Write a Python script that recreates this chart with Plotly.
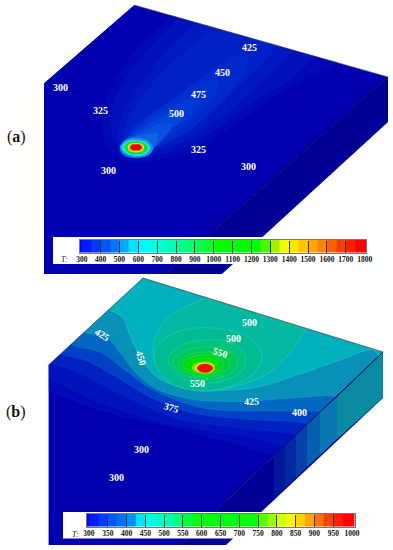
import plotly.graph_objects as go

SERIF = "Liberation Serif"
# ---------- panel (a) outlines (picture units) ----------
A_TOP = [(134,5),(388,77),(165,274),(44,274),(44,83)]
A_SIDE = [(388,77),(388,122),(222,274),(165,274)]
A_MASK = [(0,0),(393,0),(393,78),(388,77),(134,5),(44,83),(0,83)]
# ---------- panel (a) temperature contours, outer to inner ----------
A_C1 = [(172,8),(167,19),(140,45),(115,80),(102,115),(104,140),(118,157),(135,162),(160,160),(195,150),(235,125),(270,100),(305,80),(337,63),(345,56)]
A_C2 = [(184,8),(177,18),(150,47),(125,80),(111,112),(112,135),(122,150),(135,157),(160,155),(190,145),(225,123),(260,98),(290,80),(315,57),(322,50)]
A_C3 = [(204,14),(197,23),(170,47),(140,85),(122,115),(118,135),(125,148),(137,153),(160,150),(190,138),(220,118),(250,93),(275,70),(293,50),(300,42)]
A_C4 = [(220,18),(213,29),(190,47),(160,75),(135,107),(124,132),(128,145),(138,150),(160,146),(188,130),(215,108),(240,85),(265,60),(277,46),(284,38)]
A_C5 = [(247,57),(230,58),(205,75),(175,97),(145,118),(127,135),(128,146),(140,150),(160,146),(190,130),(222,102),(242,76),(248,62),(247,57)]
A_C6 = [(218,81),(200,82),(175,98),(150,115),(130,133),(130,145),(140,149),(160,143),(185,126),(208,105),(218,90),(218,81)]
A_C7 = [(198,100),(185,100),(165,110),(145,122),(131,136),(132,145),(140,148),(158,141),(178,125),(194,110),(198,100)]
A_C8 = [(184,114),(170,114),(155,120),(140,130),(125,141),(126,151),(142,153),(156,144),(172,128),(183,120),(184,114)]
A_C9 = [(172,124),(160,124),(147,130),(132,137),(122,146),(125,155),(142,157),(156,146),(168,133),(172,124)]
A_C10 = [(158,133),(148,134),(132,137),(120,146),(123,155),(137,158),(150,154),(155,146),(158,138),(158,133)]
A_C11 = [(137,138),(125,140),(120,147),(124,154),(136,157.5),(148,155.5),(153,148),(149,141),(137,138)]
A_C12 = [(136,140),(126,141.5),(121.5,147.5),(126,153.5),(136,156),(146,154),(150.5,148),(146,142),(136,140)]
A_C13 = [(136,141.2),(128,142.5),(124,147.5),(128,152.5),(136,154.3),(144,153),(148,148),(144,143),(136,141.2)]
A_C14 = [(136,143),(130,143.8),(128,147.5),(130,151),(136,152.2),(142,151),(144,147.5),(142,144),(136,143)]
A_C15 = [(136,143.8),(131,144.6),(129,147.5),(131,150.4),(136,151.2),(141,150.4),(143,147.5),(141,144.6),(136,143.8)]
A_C16 = [(136,144.5),(132,145),(130.5,147.5),(132,149.7),(136,150.3),(140,149.7),(141.5,147.5),(140,145),(136,144.5)]
A_FILLS = ["#0008b4","#0010ba","#0018c0","#0020c6","#0028ca","#0030d0","#0038d6","#0444dc",
           "#0850e0","#0c64e4","#1890e8","#20e0d8","#10e040","#f0f020","#ff8000","#d80000"]
# ---------- panel (a) labels ----------
A_LABELS = ["300","325","425","450","475","500","325","300","300"]
A_LABEL_X = [60,100,249,222,198.5,176,198,108,248]
A_LABEL_Y = [87.5,110,47,72.5,94,113,149.5,170.5,166]

# ---------- panel (b) outlines ----------
B_TOP = [(143,278),(383,352),(180,545),(48.5,545),(48.5,365)]
B_SIDE = [(383,352),(383,398),(226,545),(180,545)]
B_MASK = [(0,0),(393,0),(393,398),(383,398),(383,352),(143,278),(48.5,365),(48.5,546),(0,546)]
B_STRIP_1 = [(337,397),(383,352),(383,398),(337,439)]
B_STRIP_2 = [(320,412),(337,397),(337,439),(320,455)]
B_STRIP_3 = [(307,424),(320,412),(320,455),(307,467)]
B_STRIP_4 = [(296,435),(307,424),(307,467),(296,478)]
B_STRIP_5 = [(285,445),(296,435),(296,478),(285,488)]
B_STRIP_6 = [(274,456),(285,445),(285,488),(274,499)]
B_STRIP_FILLS = ["#0a8aa0","#0876b0","#055eae","#0340a8","#0028a0","#001898"]
# ---------- panel (b) open contours ----------
B_CLOSE = [(395,345),(395,320),(300,300),(143,276),(40,350)]
B_C1 = [(40,387),(48,390),(107,412),(173,427),(210,437),(240,445),(274,456),(282,463)]
B_C2 = [(40,373),(48,377),(90,398),(153,420),(210,431),(250,437),(285,447),(293,454)]
B_C3 = [(40,358),(48.5,362),(73,370),(123,395),(173,417),(210,424),(250,429),(296,435),(304,442)]
B_C4 = [(55,347),(62,354),(85,360),(113,375),(150,397),(185,411),(210,416),(260,420),(307,424),(315,431)]
B_C5 = [(66,338),(73,345),(100,352),(125,370),(150,388),(185,403),(210,409),(250,411),(299,411),(320,412),(328,419)]
B_C6 = [(78,325),(85,332),(107,338),(122,355),(135,372),(155,388),(185,398),(210,401),(251,401),(290,398),(337,397),(345,404)]
B_C7 = [(103,303),(110,310),(122,317),(130,335),(141,358),(157,377),(180,387),(210,390),(253,388),(303,373),(340,360),(373,350),(381,357)]
B_C_FILLS = ["#0008b8","#0012bc","#0020c0","#0040c4","#0068c0","#0890b8","#00b0bc"]
B_C_LINES = ["#0818c8","#0820c8","#0830cc","#1050d0","#1878cc","#18a8c8","#30d0d0"]
B_C8 = [(210,290),(203,298),(167,318),(153,345),(157,367),(175,383),(205,391),(240,385),(270,372),(290,353),(306,330),(312,322)]
B_C9 = [(155,350),(170,335),(195,328),(228,330),(250,338),(262,355),(252,375),(228,387),(200,391),(172,384),(157,368),(155,350)]
B_C10 = [(168,358),(180,346),(203,340),(232,343),(246,358),(240,373),(222,381),(203,383),(182,378),(172,369),(168,358)]
B_C11 = [(173,361),(185,351),(205,347),(228,350),(238,361),(232,372),(218,378),(202,379),(185,375),(175,368),(173,361)]
B_C12 = [(178,363),(188,355),(205,352),(222,354),(230,363),(226,371),(214,376),(202,377),(188,373),(180,368),(178,363)]
B_C13 = [(182,364),(190,358),(205,355),(217,357),(223,364),(220,370),(212,374),(202,375),(190,371),(184,368),(182,364)]
B_C14 = [(185,366),(193,360),(205,358),(214,360),(218,366),(216,370),(210,373),(202,373),(192,371),(187,369),(185,366)]
B_C15 = [(192,367),(197,363),(205,362),(212,363),(215,367),(213,371),(206,373),(198,372),(193,370),(192,367)]
B_C16 = [(195,368),(199,364),(205,363),(211,364),(214,368),(211,372),(205,373),(199,372),(195,368)]
B_C17 = [(197,368),(200,365),(205,364),(210,365),(213,368),(210,371.5),(205,372.5),(200,371.5),(197,368)]
B_OVAL_FILLS = ["#04b8a4","#00bc92","#00c47c","#00c860","#00d040","#00d820","#00e000","#80e000","#f0f000","#e81000"]
B_OVAL_LINES = ["#30d0d0","#30d0c0","#30d898","#30d880","#30dc60","#30e040","#30e030","#80e000","#f0f000","#e81000"]
# ---------- panel (b) labels ----------
B_LABELS = ["500","500","550","550","425","400","375","300","300","425","450"]
B_LABEL_X = [249.5,233,220,197,251,299,171,141,116,102,141.5]
B_LABEL_Y = [322,338,352,383,401,412,407,449,477,334,358]
B_LABEL_ANGLE = [0,0,18,0,-3,0,15,0,0,32,72]

# ---------- colour bars ----------
A_EDGES = [288,300,350,400,450,500,550,600,650,700,750,800,850,900,950,1000,1050,1100,1150,1200,1250,1300,1350,1400,1450,1500,1550,1600,1650,1700,1750,1807]
A_LEVELS = [300,350,400,450,500,550,600,650,700,750,800,850,900,950,1000,1050,1100,1150,1200,1250,1300,1350,1400,1450,1500,1550,1600,1650,1700,1750,1800]
A_TICKS = [300,400,500,600,700,800,900,1000,1100,1200,1300,1400,1500,1600,1700,1800]
A_STOPS = [(0,"#0000ff"),(0.13,"#0070ff"),(0.2,"#00e0ff"),(0.24,"#00ffff"),(0.36,"#00ffa0"),(0.45,"#00ff40"),(0.5,"#00ff00"),(0.64,"#00ff00"),(0.7,"#a0f000"),(0.74,"#ffff00"),(0.84,"#ffa000"),(0.93,"#ff4000"),(1,"#ff0000")]
B_EDGES = [294,300,325,350,375,400,425,450,475,500,525,550,575,600,625,650,675,700,725,750,775,800,825,850,875,900,925,950,975,1007]
B_LEVELS = [300,325,350,375,400,425,450,475,500,525,550,575,600,625,650,675,700,725,750,775,800,825,850,875,900,925,950,975,1000]
B_TICKS = [300,350,400,450,500,550,600,650,700,750,800,850,900,950,1000]
B_STOPS = [(0,"#0000ff"),(0.1,"#0050ff"),(0.2,"#00a0ff"),(0.22,"#00ffff"),(0.33,"#00ffb0"),(0.43,"#00ff00"),(0.64,"#00ff00"),(0.72,"#a8ff00"),(0.78,"#ffff00"),(0.85,"#ffb000"),(0.93,"#ff4000"),(1,"#ff0000")]
A_BOX = [(53,237),(372,237),(372,264),(53,264)]
B_BOX = [(63,512),(360,512),(360,538.5),(63,538.5)]
PANEL_TAGS = ["(<b>a</b>)","(<b>b</b>)"]
TAG_X = [16,16]
TAG_Y = [137,412]

fig = go.Figure()

def poly(pts, fill, line=None, width=0, smooth=False):
    xs, ys = zip(*pts)
    fig.add_trace(go.Scatter(
        x=list(xs), y=list(ys), mode="lines", fill="toself", fillcolor=fill,
        line=dict(color=line or fill, width=width, shape="spline" if smooth else "linear"),
        hoverinfo="skip", showlegend=False))

def edge(pts, color, width):
    xs, ys = zip(*pts)
    fig.add_trace(go.Scatter(x=list(xs), y=list(ys), mode="lines",
                             line=dict(color=color, width=width), hoverinfo="skip", showlegend=False))

# panel (b) first, so panel (a) stays clean at the join
poly(B_TOP + [B_TOP[0]], "#0000ae")
for c, f, l in zip([B_C1,B_C2,B_C3,B_C4,B_C5,B_C6,B_C7], B_C_FILLS, B_C_LINES):
    poly(c + B_CLOSE, f, line=l, width=0.5, smooth=True)
for c, f, l in zip([B_C8,B_C9,B_C10,B_C11,B_C12,B_C13,B_C14,B_C15,B_C16,B_C17], B_OVAL_FILLS, B_OVAL_LINES):
    poly(c, f, line=l, width=0.5, smooth=True)
poly(B_SIDE + [B_SIDE[0]], "#000096")
for s, f in zip([B_STRIP_6,B_STRIP_5,B_STRIP_4,B_STRIP_3,B_STRIP_2,B_STRIP_1], B_STRIP_FILLS[::-1]):
    poly(s + [s[0]], f)
poly(B_MASK + [B_MASK[0]], "#ffffff")
edge([B_TOP[4], B_TOP[0], B_TOP[1]], "#444444", 0.7)
edge([B_TOP[1], B_TOP[2]], "#001050", 0.8)
edge([B_TOP[4], B_TOP[3]], "#8080d0", 0.6)

# panel (a)
poly(A_TOP + [A_TOP[0]], "#0000ae")
for c, f in zip([A_C1,A_C2,A_C3,A_C4,A_C5,A_C6,A_C7,A_C8,A_C9,A_C10,A_C11,A_C12,A_C13,A_C14,A_C15,A_C16], A_FILLS):
    poly(c, f, smooth=True)
poly(A_SIDE + [A_SIDE[0]], "#000096")
poly(A_MASK + [A_MASK[0]], "#ffffff")
edge([A_TOP[0], A_TOP[1]], "#303060", 0.7)
edge([A_TOP[1], A_TOP[2]], "#000050", 0.8)

poly(A_BOX + [A_BOX[0]], "#ffffff")
poly(B_BOX + [B_BOX[0]], "#ffffff")

fig.add_trace(go.Heatmap(x=A_EDGES, y=[0,1], z=[A_LEVELS], xaxis="x2", yaxis="y2", zmin=300, zmax=1800,
                         colorscale=[[p,c] for p,c in A_STOPS], showscale=False, hoverinfo="skip"))
fig.add_trace(go.Heatmap(x=B_EDGES, y=[0,1], z=[B_LEVELS], xaxis="x3", yaxis="y3", zmin=300, zmax=1000,
                         colorscale=[[p,c] for p,c in B_STOPS], showscale=False, hoverinfo="skip"))

def anns():
    out = []
    for t, x, y in zip(A_LABELS, A_LABEL_X, A_LABEL_Y):
        out.append(dict(text=t, x=x, y=y, xref="x", yref="y", showarrow=False,
                        font=dict(family=SERIF, size=10, color="#ffffff", weight="bold")))
    for t, x, y, a in zip(B_LABELS, B_LABEL_X, B_LABEL_Y, B_LABEL_ANGLE):
        out.append(dict(text=t, x=x, y=y, xref="x", yref="y", showarrow=False, textangle=a,
                        font=dict(family=SERIF, size=10, color="#ffffff", weight="bold")))
    for t, x, y in zip(PANEL_TAGS, TAG_X, TAG_Y):
        out.append(dict(text=t, x=x, y=y, xref="x", yref="y", showarrow=False,
                        font=dict(family=SERIF, size=16, color="#111111")))
    out.append(dict(text="<i>T:</i>", x=64, y=259, xref="x", yref="y", showarrow=False,
                    font=dict(family=SERIF, size=8, color="#222222")))
    out.append(dict(text="<i>T:</i>", x=75, y=534, xref="x", yref="y", showarrow=False,
                    font=dict(family=SERIF, size=8, color="#222222")))
    return out

def bar_x(lo, hi, d0, d1, ticks):
    return dict(range=[lo, hi], domain=[d0/393, d1/393], tickmode="array", tickvals=ticks,
                ticktext=[str(t) for t in ticks], ticks="", ticklen=0, showgrid=False, zeroline=False,
                tickfont=dict(family=SERIF, size=7.5, color="#111111", weight="bold"),
                tickangle=0, showline=True, mirror=True, linecolor="#777777", linewidth=0.6,
                minor=dict(tickmode="array", tickvals=ticks[1:-1], ticks="inside", ticklen=12,
                           tickcolor="#333333", tickwidth=0.7, showgrid=False),
                fixedrange=True, layer="above traces", automargin=False)

def bar_y(top, bottom):
    return dict(range=[0,1], domain=[1-bottom/550, 1-top/550], showticklabels=False, ticks="",
                showgrid=False, zeroline=False, fixedrange=True, showline=True, mirror=True,
                linecolor="#777777", linewidth=0.6, automargin=False)

fig.update_layout(
    width=393, height=550, autosize=False, margin=dict(l=0,r=0,t=0,b=0,pad=0,autoexpand=False),
    paper_bgcolor="#ffffff", plot_bgcolor="rgba(0,0,0,0)", showlegend=False,
    xaxis=dict(range=[0,393], domain=[0,1], visible=False, fixedrange=True),
    yaxis=dict(range=[550,0], domain=[0,1], visible=False, fixedrange=True),
    xaxis2=dict(anchor="y2", **bar_x(288,1807,79.5,366,A_TICKS)),
    yaxis2=dict(anchor="x2", **bar_y(240,252.5)),
    xaxis3=dict(anchor="y3", **bar_x(294,1007,86.7,354.7,B_TICKS)),
    yaxis3=dict(anchor="x3", **bar_y(514,526.5)),
    annotations=anns(),
)
fig.write_html("out.html", config=dict(displayModeBar=False),
               post_script="document.body.style.margin='0';document.documentElement.style.overflow='hidden';")
